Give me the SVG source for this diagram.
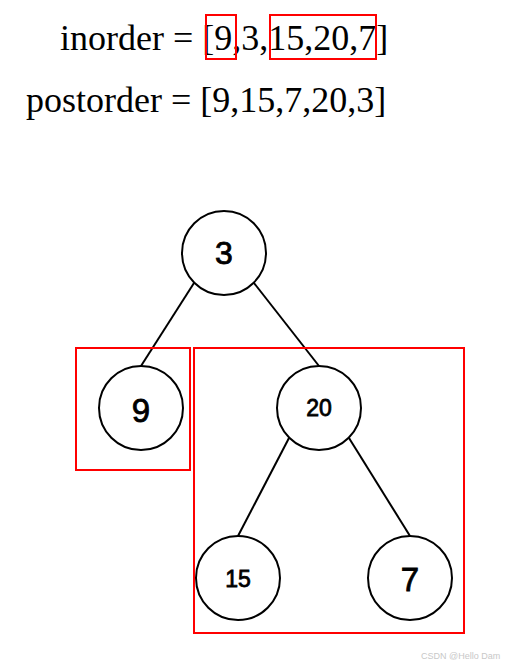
<svg xmlns="http://www.w3.org/2000/svg" width="505" height="667" viewBox="0 0 505 667">
<style>
.hdr{font-family:"Liberation Serif","Times New Roman",serif;font-size:36px;fill:#000}
.node circle{fill:#fff;stroke:#000;stroke-width:2}
.lbl{font-family:"Liberation Sans",Arial,sans-serif;fill:#000;stroke:#000;stroke-width:0.8;text-anchor:middle}
.box{fill:none;stroke:#ff0000;stroke-width:2}
.edges line{stroke:#000;stroke-width:2}
.wm{font-family:"Liberation Sans",Arial,sans-serif;font-size:9px;fill:#c8c8c8}
</style>
<rect width="505" height="667" fill="#fff"/>
<text class="hdr" x="60" y="50">inorder = [9,3,15,20,7]</text>
<text class="hdr" x="26" y="112">postorder = [9,15,7,20,3]</text>
<rect class="box" x="206" y="15" width="30" height="44"/>
<rect class="box" x="270" y="15" width="106" height="44"/>
<g id="edges" class="edges">
<line x1="194" y1="283" x2="141" y2="366"/>
<line x1="254" y1="283" x2="319" y2="366"/>
<line x1="289" y1="438" x2="238" y2="536"/>
<line x1="349" y1="438" x2="410" y2="536"/>
</g>
<rect class="box" x="76" y="348" width="114" height="122"/>
<rect class="box" x="194" y="348" width="270" height="285"/>
<g id="n3" class="node"><circle cx="224" cy="253" r="42"/><text class="lbl" x="224" y="264" font-size="32">3</text></g>
<g id="n9" class="node"><circle cx="141" cy="408" r="42"/><text class="lbl" x="141" y="422" font-size="33">9</text></g>
<g id="n20" class="node"><circle cx="319" cy="408" r="42"/><text class="lbl" x="319" y="416" font-size="23">20</text></g>
<g id="n15" class="node"><circle cx="238" cy="578" r="42"/><text class="lbl" x="238" y="587" font-size="23">15</text></g>
<g id="n7" class="node"><circle cx="410" cy="578" r="42"/><text class="lbl" x="410" y="591" font-size="33">7</text></g>
<text class="wm" x="421" y="659">CSDN @Hello Dam</text>
</svg>
